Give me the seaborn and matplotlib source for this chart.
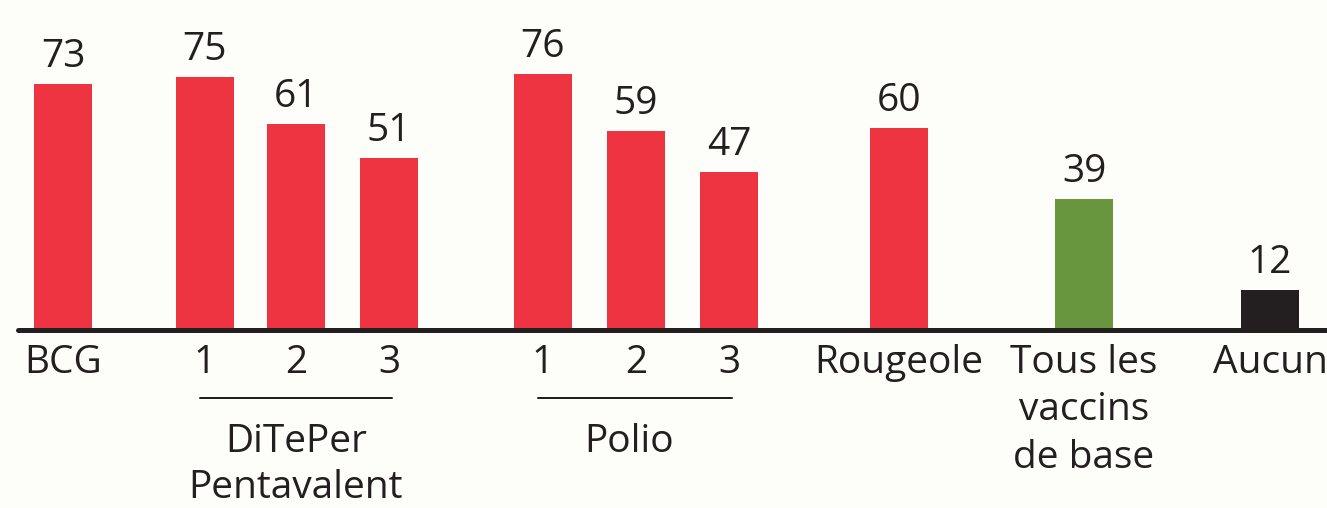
import numpy as np
import pandas as pd
import matplotlib
matplotlib.use("Agg")
import matplotlib.pyplot as plt
import seaborn as sns

#Data
categories = ["BCG", "DTP1", "DTP2", "DTP3", "Polio1", "Polio2", "Polio3",
              "Rougeole", "Tous", "Aucun"]
values = [73, 75, 61, 51, 76, 59, 47, 60, 39, 12]
tick_labels = [["BCG"], ["1"], ["2"], ["3"], ["1"], ["2"], ["3"],
               ["Rougeole"], ["Tous les", "vaccins", "de base"], ["Aucun"]]
group_labels = [["DiTePer", "Pentavalent"], ["Polio"]]
group_members = [["DTP1", "DTP2", "DTP3"], ["Polio1", "Polio2", "Polio3"]]

#Layout (pixel-like x positions of bar centres)
xpos = [63, 205, 296, 389, 543, 636, 729, 899, 1084, 1270]
group_shift = [0, -6]
RED, GREEN, BLACK = "#ee3341", "#68963f", "#231f20"
bar_colors = [RED] * 8 + [GREEN, BLACK]
BG = "#fdfdf9"
W, H = 1327, 508
BASE = 330          #baseline pixel row
PXU = 3.37          #pixels per unit
PT = 0.72           #points per pixel at dpi 100

sns.set_style("white")
plt.rcParams["font.family"] = ["Open Sans", "DejaVu Sans"]

df = pd.DataFrame({"cat": categories, "val": values, "x": xpos})

fig = plt.figure(figsize=(W / 100, H / 100), dpi=100, facecolor=BG)
ax = fig.add_axes([0, 0, 1, 1], facecolor=BG)
sns.barplot(data=df, x="x", y="val", hue="cat", palette=dict(zip(categories, bar_colors)),
            native_scale=True, width=58 / 91, legend=False, saturation=1,
            linewidth=0, ax=ax)
ax.set_xlim(0, W)
ax.set_ylim(-(H - BASE) / PXU, BASE / PXU)
ax.axis("off")

#Baseline
ax.axhline(0, xmin=18 / W, xmax=1, color=BLACK, lw=5 * PT, zorder=5)

fs = 28
#Value labels
for x, v in zip(xpos, values):
    ax.annotate(str(v), (x, v), xytext=(0, 17 * PT), textcoords="offset points",
                ha="center", va="baseline", fontsize=fs, color=BLACK)

#Category labels
for x, lines in zip(xpos, tick_labels):
    for k, line in enumerate(lines):
        ax.annotate(line, (x, 0), xytext=(0, -(42.7 + 47.5 * k) * PT),
                    textcoords="offset points", ha="center", va="baseline",
                    fontsize=fs, color=BLACK, annotation_clip=False)

#Group underlines and names
for lines, members, shift in zip(group_labels, group_members, group_shift):
    xs = [xpos[categories.index(m)] for m in members]
    x0, x1 = xs[0] - 5, xs[-1] + 3
    ax.plot([x0, x1], [-(397.7 - BASE) / PXU] * 2, color=BLACK, lw=2 * PT, clip_on=False)
    xc = (x0 + x1) / 2 + shift
    for k, line in enumerate(lines):
        ax.annotate(line, (xc, 0), xytext=(0, -(121.7 + 46.5 * k) * PT),
                    textcoords="offset points", ha="center", va="baseline",
                    fontsize=fs, color=BLACK, annotation_clip=False)

fig.savefig("out.png", dpi=100, facecolor=BG)
